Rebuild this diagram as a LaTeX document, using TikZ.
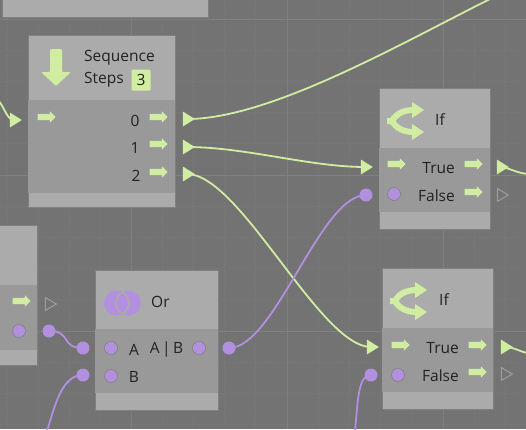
\documentclass[tikz,border=0pt]{standalone}
\usepackage{fontspec}
\setmainfont{Open Sans}
\usetikzlibrary{shapes.geometric, shapes.arrows, positioning}
\definecolor{canvasgray}{HTML}{737373}
\definecolor{gridgray}{HTML}{808080}
\definecolor{dotgray}{HTML}{7A7A7A}
\definecolor{headgray}{HTML}{ABABAB}
\definecolor{bodygray}{HTML}{999999}
\definecolor{flowgreen}{HTML}{D0EDA2}
\definecolor{valuepurple}{HTML}{B38FE0}
\definecolor{labelblack}{HTML}{222222}
\tikzset{
  panel/.style={draw=gridgray, line width=0.6pt, fill=headgray, anchor=north west, inner sep=0pt, outer sep=0pt},
  band/.style={fill=bodygray, anchor=north west, inner sep=0pt, outer sep=0pt},
  label/.style={text=labelblack, inner sep=0pt, font=\fontsize{15.5}{17}\selectfont},
  flowport/.style={single arrow, fill=flowgreen, minimum width=11pt, minimum height=18pt, single arrow head extend=2.5pt, inner xsep=0pt, inner ysep=3pt},
  valueport/.style={circle, fill=valuepurple, draw=gridgray, line width=0.6pt, minimum size=13pt, inner sep=0pt},
  flowtip/.style={isosceles triangle, isosceles triangle stretches, fill=flowgreen, minimum width=15pt, minimum height=12pt, inner sep=0pt},
  opentip/.style={isosceles triangle, isosceles triangle stretches, draw=headgray!75!canvasgray, line width=1pt, minimum width=13pt, minimum height=11pt, inner sep=0pt},
  valuetip/.style={circle, fill=valuepurple, minimum size=13pt, inner sep=0pt},
  flowline/.style={draw=flowgreen, line width=1.8pt},
  valueline/.style={draw=valuepurple, line width=1.8pt},
}
\begin{document}
\begin{tikzpicture}[x=1pt, y=-1pt]
    \useasboundingbox (0,0) rectangle (526,429);
    \clip (0,0) rectangle (526,429);
    \fill[canvasgray] (0,0) rectangle (526,429);
    % grid
    \foreach \gx in {7,38,69,100,162,193,224,255,318,349,380,411,474,505}
        \draw[dotgray, line width=0.4pt, dotted] (\gx,0) -- (\gx,429);
    \foreach \gy in {50,81,112,143,206,237,268,299,362,393,424}
        \draw[dotgray, line width=0.4pt, dotted] (0,\gy) -- (526,\gy);
    \foreach \gx in {131,287,443}
        \draw[gridgray, line width=0.7pt] (\gx,0) -- (\gx,429);
    \foreach \gy in {19,175,331}
        \draw[gridgray, line width=0.7pt] (0,\gy) -- (526,\gy);

    % top and left panels, cut off by the frame
    \node[panel, minimum width=206pt, minimum height=30pt] at (2,-13) (toppanel) {};
    \node[panel, minimum width=60pt, minimum height=140pt] at (-23,225) (leftpanel) {};
    \node[band, minimum width=60pt, minimum height=65pt] at (-23,285) (leftbody) {};
    \node[flowport] at (20,301) (leftflow) {};
    \node[valueport] at (19,331) (leftvalue) {};

    % sequence
    \node[panel, minimum width=147pt, minimum height=172pt] at (28,35) (seq) {};
    \node[band, minimum width=147pt, minimum height=93pt] at (28,100) (seqbody) {};
    \fill[flowgreen, rounded corners=1pt] (50,49) -- (62,49) -- (62,72) -- (71,72) -- (56,86) -- (41,72) -- (50,72) -- cycle;
    \node[label, anchor=west] at (84,58) (seqtitle) {Sequence};
    \node[label, anchor=west] at (84,79.5) (seqsteps) {Steps};
    \node[fill=flowgreen, rounded corners=1pt, minimum width=19pt, minimum height=21pt, inner sep=0pt, text=labelblack, font=\fontsize{15.5}{17}\selectfont] at (141,80) (seqcount) {3};
    \node[flowport] at (45,117) (seqin) {};
    \node[label] at (135,120.5) (seqzero) {0};
    \node[label] at (135,147.5) (seqone) {1};
    \node[label] at (136,175.5) (seqtwo) {2};
    \node[flowport] at (157,117) (seqzeroport) {};
    \node[flowport] at (157,144) (seqoneport) {};
    \node[flowport] at (157,172) (seqtwoport) {};
    \node[flowtip] at (14,120) (seqintip) {};
    \node[flowtip] at (187,119) (seqzerotip) {};
    \node[flowtip] at (187,147) (seqonetip) {};
    \node[flowtip] at (187,174) (seqtwotip) {};

    % upper if
    \node[panel, minimum width=111pt, minimum height=141pt] at (379,88) (ifa) {};
    \node[band, minimum width=111pt, minimum height=64pt] at (379,148) (ifabody) {};
    \node[label, anchor=west] at (435,120) (ifatitle) {If};
    \node[flowport] at (395,164) (ifain) {};
    \node[valueport] at (394,194) (ifavalue) {};
    \node[label, anchor=east] at (455,168.5) (ifatrue) {True};
    \node[label, anchor=east] at (455,195.5) (ifafalse) {False};
    \node[flowport] at (472,164) (ifatrueport) {};
    \node[flowport] at (472,192) (ifafalseport) {};
    \node[flowtip] at (365,167) (ifaintip) {};
    \node[valuetip] at (366,195) (ifavaluetip) {};
    \node[flowtip] at (501,167) (ifatruetip) {};
    \node[opentip] at (501,195) (ifafalsetip) {};

    % lower if
    \node[panel, minimum width=111pt, minimum height=141pt] at (382,268) (ifb) {};
    \node[band, minimum width=111pt, minimum height=64pt] at (382,328) (ifbbody) {};
    \node[label, anchor=west] at (439,300) (ifbtitle) {If};
    \node[flowport] at (399,345) (ifbin) {};
    \node[valueport] at (398,375) (ifbvalue) {};
    \node[label, anchor=east] at (459,348.5) (ifbtrue) {True};
    \node[label, anchor=east] at (459,375.5) (ifbfalse) {False};
    \node[flowport] at (476,345) (ifbtrueport) {};
    \node[flowport] at (476,372) (ifbfalseport) {};
    \node[flowtip] at (371,347) (ifbintip) {};
    \node[valuetip] at (371,375) (ifbvaluetip) {};
    \node[flowtip] at (505,347) (ifbtruetip) {};
    \node[opentip] at (505,374) (ifbfalsetip) {};

    % or
    \node[panel, minimum width=123pt, minimum height=140pt] at (95,270) (orpanel) {};
    \node[band, minimum width=123pt, minimum height=64pt] at (95,329) (orbody) {};
    \node[label, anchor=west] at (151,302) (ortitle) {Or};
    \node[valueport] at (111,348) (orain) {};
    \node[valueport] at (111,376) (orbin) {};
    \node[valueport] at (199,348) (orout) {};
    \node[label] at (134,349.5) (oralabel) {A};
    \node[label] at (134,376.5) (orblabel) {B};
    \node[label] at (166.5,349.5) (oroutlabel) {A\hspace{2.5pt}|\hspace{2.5pt}B};
    \node[valuetip] at (83,348) (oratip) {};
    \node[valuetip] at (83,375) (orbtip) {};
    \node[valuetip] at (229,348) (orouttip) {};
    \node[valuetip] at (49,331) (leftvaluetip) {};
    \node[opentip] at (49,304) (leftflowtip) {};

    % or icon
    \fill[valuepurple] (116.5,303) circle (12.5) (128.5,303) circle (12.5);
    \begin{scope}
        \clip (116.5,303) circle (12.5);
        \draw[headgray, line width=1.6pt] (128.5,303) circle (12.5);
    \end{scope}
    \begin{scope}
        \clip (128.5,303) circle (12.5);
        \draw[headgray, line width=1.6pt] (116.5,303) circle (12.5);
    \end{scope}

    % if icons
    \foreach \ix/\iy in {379/88, 382/268} {
        \draw[flowgreen, line width=6pt] (\ix+8,\iy+33) -- (\ix+13,\iy+33) .. controls (\ix+17,\iy+26) and (\ix+24,\iy+22) .. (\ix+35,\iy+22);
        \draw[flowgreen, line width=6pt] (\ix+13,\iy+33) .. controls (\ix+17,\iy+40) and (\ix+24,\iy+44) .. (\ix+35,\iy+44);
        \fill[flowgreen] (\ix+45,\iy+22) -- (\ix+33,\iy+14) -- (\ix+33,\iy+30) -- cycle;
        \fill[flowgreen] (\ix+45,\iy+44) -- (\ix+33,\iy+36) -- (\ix+33,\iy+52) -- cycle;
    }

    % connections
    \coordinate (topexit) at (492,-2);
    \coordinate (leftentry) at (-2,100);
    \coordinate (ifarightend) at (528,174);
    \coordinate (ifbrightend) at (528,353);
    \coordinate (orbottom) at (47,431);
    \coordinate (ifbbottom) at (355,431);
    \draw[flowline] (seqzerotip.center) .. controls (270,119) and (400,44) .. (topexit);
    \draw[flowline] (seqonetip.center) .. controls (245,147) and (310,167) .. (ifaintip.center);
    \draw[flowline] (seqtwotip.center) .. controls (240,174) and (320,347) .. (ifbintip.center);
    \draw[flowline] (leftentry) .. controls (5,108) and (7,120) .. (seqintip.center);
    \draw[flowline] (ifatruetip.center) .. controls (510,168) and (516,173) .. (ifarightend);
    \draw[flowline] (ifbtruetip.center) .. controls (514,347) and (520,352) .. (ifbrightend);
    \draw[valueline] (orouttip.center) .. controls (275,348) and (320,195) .. (ifavaluetip.center);
    \draw[valueline] (leftvaluetip.center) .. controls (72,331) and (60,348) .. (oratip.center);
    \draw[valueline] (orbottom) .. controls (55,405) and (62,375) .. (orbtip.center);
    \draw[valueline] (ifbbottom) .. controls (358,400) and (358,375) .. (ifbvaluetip.center);
\end{tikzpicture}
\end{document}
